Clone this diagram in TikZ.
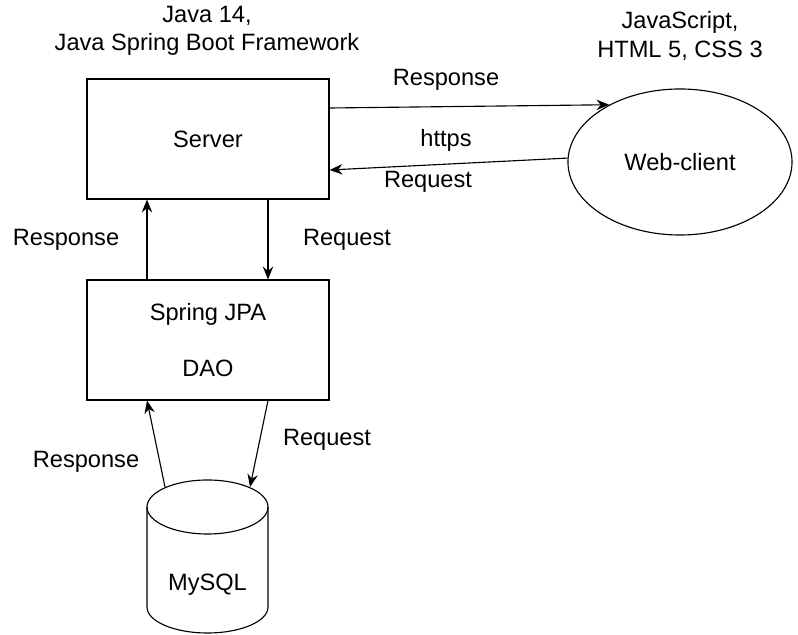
\documentclass[tikz,border=0pt]{standalone}
\usepackage{fontspec}
\setmainfont{Liberation Sans}
\usetikzlibrary{shapes.geometric,calc,arrows.meta}
\tikzset{>={Stealth[length=3.2mm,width=2.6mm]}}

\begin{document}
\begin{tikzpicture}[x=0.025cm,y=-0.025cm,
    every node/.style={font=\fontsize{16.8}{20}\selectfont},
    box/.style={draw,thick,minimum width=6.05cm,minimum height=3cm,align=center},
    lbl/.style={align=center}]
    \useasboundingbox (0,0) rectangle (798,635);
    % the three blocks
    \node[box] (server) at (208,139) {Server};
    \node[box] (dao) at (208,340) {Spring JPA\\[20pt]DAO};
    \node[draw,thick,ellipse,minimum width=5.6cm,minimum height=3.65cm] (client) at (680,162) {Web-client};

    % database drum
    \coordinate (dbtop) at (207.5,507);
    \draw[thick] (dbtop) ellipse [x radius=60.5, y radius=27];
    \draw[thick] ($(dbtop)+(-60.5,0)$) -- ++(0,100)
        arc[start angle=180, end angle=0, x radius=60.5, y radius=26] -- ++(0,-100);
    \coordinate (dbleft) at ($(dbtop)+(-42.5,-20)$);
    \coordinate (dbright) at ($(dbtop)+(42.5,-20)$);
    \node (mysql) at (207.5,585) {MySQL};

    % technology notes
    \node[lbl] (javatxt) at (207,31) {Java 14,\\Java Spring Boot Framework};
    \node[lbl] (webtxt) at (680,36) {JavaScript,\\HTML 5, CSS 3};

    % server <-> client
    \draw[->,thick] ($(server.east)+(0,-31)$) -- (client.141);
    \draw[->,thick] (client.178) -- ($(server.east)+(0,31)$);
    \node (resp1) at (446,80) {Response};
    \node (https) at (446,140) {https};
    \node (req1) at (428,182) {Request};

    % server <-> dao
    \draw[->,thick] ($(dao.north)+(-61,0)$) -- ($(server.south)+(-61,0)$);
    \draw[->,thick] ($(server.south)+(60,0)$) -- ($(dao.north)+(60,0)$);
    \node (resp2) at (66,240) {Response};
    \node (req2) at (347,240) {Request};

    % dao <-> mysql
    \draw[->,thick] (dbleft) -- ($(dao.south)+(-61,0)$);
    \draw[->,thick] ($(dao.south)+(60,0)$) -- (dbright);
    \node (resp3) at (86,462) {Response};
    \node (req3) at (327,440) {Request};
\end{tikzpicture}
\end{document}
